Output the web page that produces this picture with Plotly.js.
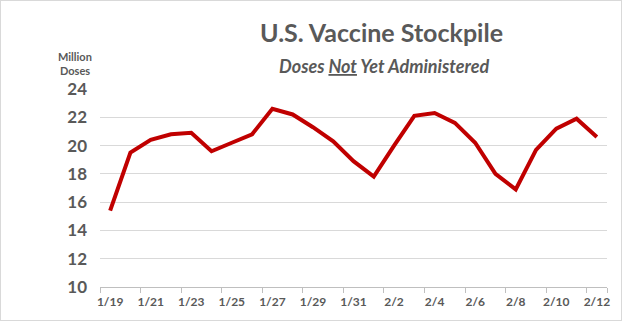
<!DOCTYPE html>
<html><head><meta charset="utf-8">
<script src="https://cdn.plot.ly/plotly-3.0.1.min.js"></script>
<style>html,body{margin:0;padding:0;background:#fff}#c{width:622px;height:321px;box-sizing:border-box;border:1px solid #d9d9d9}</style>
</head><body><div id="c"></div>
<script>
const dates = ['1/19','1/20','1/21','1/22','1/23','1/24','1/25','1/26','1/27','1/28','1/29','1/30','1/31','2/1','2/2','2/3','2/4','2/5','2/6','2/7','2/8','2/9','2/10','2/11','2/12'];
const doses = [15.4,19.5,20.4,20.8,20.9,19.6,20.2,20.8,22.6,22.2,21.3,20.3,18.9,17.8,20.0,22.1,22.3,21.6,20.2,18.0,16.9,19.7,21.2,21.9,20.6];
const xTickLabels = ['1/19','1/21','1/23','1/25','1/27','1/29','1/31','2/2','2/4','2/6','2/8','2/10','2/12'];
const yTicks = [10,12,14,16,18,20,22,24];
const titleText = 'U.S. Vaccine Stockpile';
const subtitleText = 'Doses <u>Not</u> Yet Administered';
const yLabelLines = ['Million', 'Doses'];

const grey = '#595959';
Plotly.newPlot('c', [{
  x: dates, y: doses, type: 'scatter', mode: 'lines',
  line: {color: '#c00000', width: 4}, hoverinfo: 'skip'
}], {
  width: 620, height: 319,
  margin: {l: 99, r: 14, t: 88, b: 33},
  paper_bgcolor: '#fff', plot_bgcolor: '#fff',
  font: {family: 'Lato, "Open Sans", sans-serif', color: grey},
  showlegend: false,
  xaxis: {
    type: 'category', tickmode: 'array', tickvals: xTickLabels, ticktext: xTickLabels,
    tickson: 'boundaries', ticks: 'outside', ticklen: 5, tickcolor: '#bfbfbf',
    showgrid: false, showline: true, linecolor: '#bfbfbf', linewidth: 1,
    tickangle: 0, automargin: false, ticklabelstandoff: 4,
    tickfont: {size: 12, color: grey, weight: 'bold'},
    range: [-0.5, 24.5], fixedrange: true, zeroline: false
  },
  yaxis: {
    range: [10, 24], tickmode: 'array', tickvals: yTicks, automargin: false,
    showgrid: true, gridcolor: '#d9d9d9', gridwidth: 1, zeroline: false,
    showline: false, ticks: '', ticklabelstandoff: 12,
    tickfont: {size: 17, color: grey, weight: 'bold'}
  },
  annotations: [
    {text: titleText, xref: 'paper', yref: 'paper', x: 0.555, y: 1.288, xanchor: 'center', yanchor: 'middle', showarrow: false,
     font: {size: 25, color: grey, weight: 'bold'}},
    {text: '<i>' + subtitleText + '</i>', xref: 'paper', yref: 'paper', x: 0.56, y: 1.115, xanchor: 'center', yanchor: 'middle', showarrow: false,
     font: {size: 18, color: grey, weight: 'bold'}},
    {text: yLabelLines[0], xref: 'paper', yref: 'paper', x: -0.05, y: 1.165, xanchor: 'center', yanchor: 'middle', showarrow: false,
     font: {size: 11, color: grey, weight: 'bold'}},
    {text: yLabelLines[1], xref: 'paper', yref: 'paper', x: -0.05, y: 1.095, xanchor: 'center', yanchor: 'middle', showarrow: false,
     font: {size: 11, color: grey, weight: 'bold'}}
  ]
}, {staticPlot: true});
</script></body></html>
